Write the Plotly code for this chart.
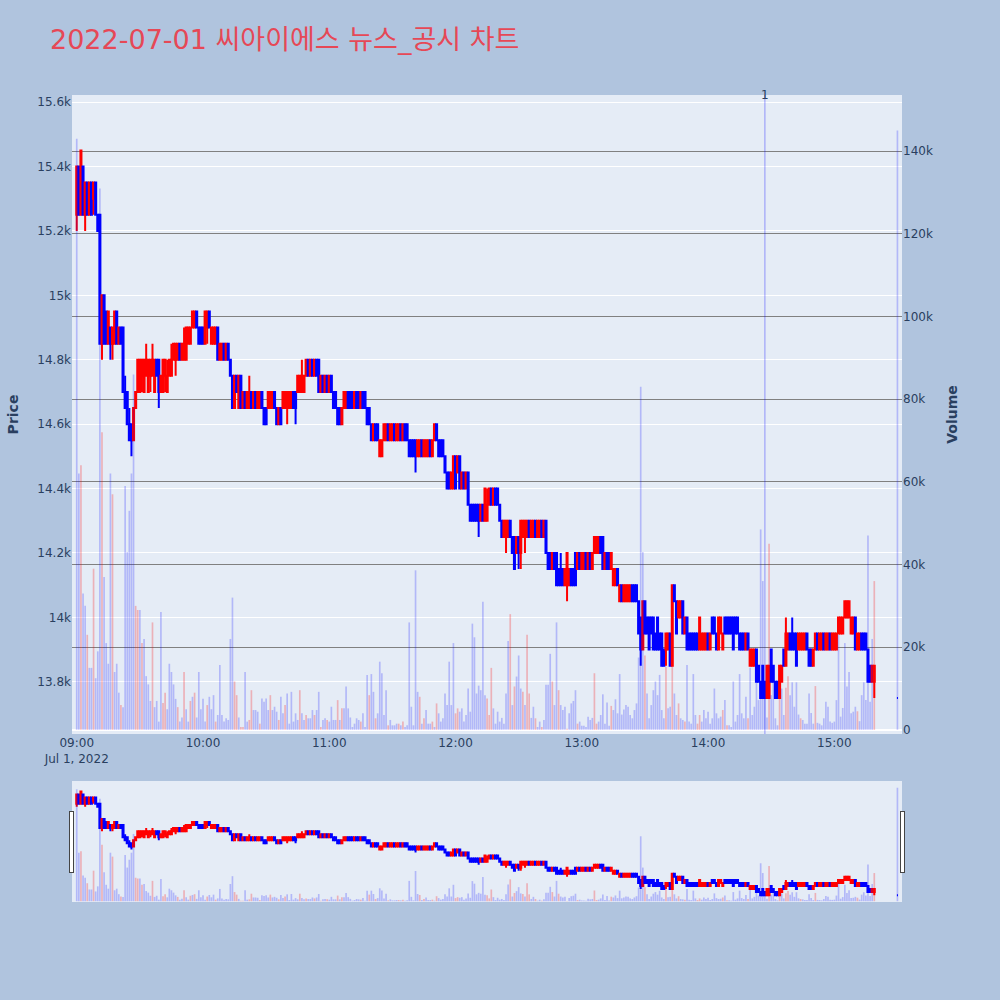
import pandas as pd
import plotly.graph_objects as go

day = "2022-07-01"
# minutes after 09:00 that have a bar (continuous session until 15:19, closing auction at 15:30)
minute_offsets = list(range(380)) + [390]

opens = [
    15250,15400,15250,15400,15250,15350,15250,15350,15300,15350,
    15250,15250,14850,15000,14950,14850,14900,14850,14850,14950,
    14850,14900,14900,14700,14700,14600,14600,14550,14650,14700,
    14700,14750,14700,14750,14700,14750,14750,14700,14800,14800,
    14700,14700,14750,14700,14750,14750,14800,14800,14800,14850,
    14800,14800,14800,14850,14850,14900,14900,14950,14900,14900,
    14900,14850,14900,14950,14850,14850,14850,14900,14800,14800,
    14850,14800,14850,14800,14750,14650,14750,14650,14750,14650,
    14700,14650,14650,14700,14650,14700,14650,14650,14700,14650,
    14650,14650,14650,14650,14700,14650,14600,14650,14650,14650,
    14650,14650,14650,14700,14700,14700,14700,14700,14700,14750,
    14800,14750,14800,14750,14800,14800,14700,14750,14700,14750,
    14700,14750,14700,14700,14650,14650,14600,14650,14650,14700,
    14700,14700,14650,14700,14700,14650,14700,14700,14650,14650,
    14600,14550,14600,14600,14500,14500,14550,14550,14600,14550,
    14550,14600,14550,14550,14600,14550,14600,14600,14550,14550,
    14550,14550,14500,14500,14550,14500,14500,14500,14550,14500,
    14550,14600,14550,14550,14550,14500,14450,14450,14400,14400,
    14500,14450,14500,14400,14450,14400,14450,14350,14350,14350,
    14350,14350,14300,14350,14300,14300,14350,14400,14350,14400,
    14400,14350,14300,14250,14250,14250,14300,14250,14250,14200,
    14250,14200,14250,14250,14250,14300,14250,14250,14300,14250,
    14250,14300,14250,14300,14200,14200,14150,14200,14200,14150,
    14150,14150,14100,14100,14100,14150,14150,14200,14150,14200,
    14150,14150,14200,14150,14200,14150,14200,14200,14200,14250,
    14250,14150,14200,14200,14150,14100,14100,14150,14050,14100,
    14050,14050,14050,14050,14100,14100,14100,14050,14000,13900,
    14050,14000,14000,14000,14000,13950,14000,13950,13950,13900,
    13900,13900,13950,13850,14100,14050,14000,14000,14050,13950,
    14000,13950,13950,13950,13950,13950,13900,13900,13900,13900,
    13950,13900,14000,14000,13950,13900,13950,13900,14000,14000,
    14000,14000,14000,14000,14000,13950,13950,13950,13900,13950,
    13850,13850,13850,13900,13850,13800,13850,13800,13750,13750,
    13900,13850,13800,13800,13750,13800,13900,13850,13900,13950,
    13950,13950,13950,13900,13900,13900,13900,13950,13900,13900,
    13850,13900,13950,13900,13900,13950,13900,13900,13950,13900,
    13900,13900,13950,13950,13950,14000,14000,14000,13950,13950,
    14000,13900,13900,13950,13950,13950,13900,13850,13800,13800,
    13750,
]
highs = [
    15400,15400,15450,15400,15350,15350,15350,15350,15350,15350,
    15250,15250,15000,15000,14950,14950,14900,14900,14950,14950,
    14900,14900,14900,14750,14700,14650,14600,14650,14700,14800,
    14800,14800,14800,14850,14800,14800,14850,14800,14800,14800,
    14750,14800,14800,14800,14800,14850,14850,14850,14850,14850,
    14850,14900,14900,14900,14900,14950,14950,14950,14900,14900,
    14900,14950,14950,14950,14900,14900,14900,14900,14850,14850,
    14850,14850,14850,14800,14750,14750,14750,14750,14750,14700,
    14700,14700,14750,14700,14700,14700,14700,14700,14700,14650,
    14650,14700,14700,14700,14700,14650,14650,14650,14700,14700,
    14700,14700,14700,14700,14700,14750,14750,14800,14750,14800,
    14800,14800,14800,14800,14800,14800,14750,14750,14750,14750,
    14750,14750,14700,14700,14650,14650,14650,14700,14700,14700,
    14700,14700,14700,14700,14700,14700,14700,14700,14650,14650,
    14600,14600,14600,14600,14550,14550,14600,14600,14600,14600,
    14600,14600,14600,14600,14600,14600,14600,14600,14550,14550,
    14550,14550,14550,14550,14550,14550,14550,14550,14550,14550,
    14600,14600,14550,14550,14550,14500,14450,14450,14450,14500,
    14500,14500,14500,14450,14450,14450,14450,14350,14350,14350,
    14350,14350,14350,14350,14400,14400,14400,14400,14400,14400,
    14400,14350,14300,14300,14300,14300,14300,14250,14250,14250,
    14250,14300,14300,14300,14300,14300,14300,14300,14300,14300,
    14300,14300,14300,14300,14200,14200,14200,14200,14200,14150,
    14200,14150,14150,14200,14150,14150,14150,14200,14200,14200,
    14200,14200,14200,14200,14200,14200,14250,14250,14250,14250,
    14250,14200,14200,14200,14200,14150,14150,14150,14100,14100,
    14100,14100,14100,14100,14100,14100,14100,14050,14000,14050,
    14050,14000,14000,14000,14000,13950,14000,13950,13950,13900,
    13950,13950,13950,14100,14100,14050,14050,14050,14050,14000,
    14000,13950,13950,13950,13950,13950,14000,13950,13950,13950,
    13950,13950,14000,14000,13950,14000,14000,13950,14000,14000,
    14000,14000,14000,14000,14000,13950,13950,13950,13950,13950,
    13900,13900,13900,13900,13850,13800,13850,13800,13850,13850,
    13900,13850,13800,13800,13850,13850,13900,14000,13950,13950,
    14000,13950,13950,13950,13950,13950,13950,13950,13900,13900,
    13900,13950,13950,13950,13950,13950,13950,13950,13950,13950,
    13950,13950,14000,14000,14000,14050,14050,14050,14000,14000,
    14000,13950,13950,13950,13950,13950,13900,13850,13850,13850,
    13750,
]
lows = [
    15200,15250,15250,15250,15200,15250,15250,15250,15250,15250,
    15200,14850,14800,14850,14850,14850,14800,14800,14850,14850,
    14850,14850,14700,14650,14600,14550,14500,14550,14650,14700,
    14700,14700,14700,14750,14700,14700,14750,14700,14750,14650,
    14700,14700,14700,14700,14750,14750,14800,14750,14800,14800,
    14800,14800,14800,14850,14850,14900,14900,14900,14850,14850,
    14850,14850,14850,14900,14850,14850,14850,14800,14800,14800,
    14800,14800,14800,14750,14650,14650,14700,14650,14650,14650,
    14650,14650,14650,14650,14650,14650,14650,14650,14650,14600,
    14600,14650,14650,14650,14650,14600,14600,14600,14650,14650,
    14600,14650,14650,14650,14600,14700,14700,14700,14700,14750,
    14750,14750,14750,14750,14750,14700,14700,14700,14700,14700,
    14700,14700,14650,14650,14600,14600,14600,14650,14650,14650,
    14650,14650,14650,14650,14650,14650,14650,14650,14600,14600,
    14550,14550,14550,14550,14500,14500,14550,14550,14550,14550,
    14550,14550,14550,14550,14550,14550,14550,14550,14500,14500,
    14500,14450,14500,14500,14500,14500,14500,14500,14500,14500,
    14550,14550,14500,14500,14500,14450,14400,14400,14400,14400,
    14400,14450,14400,14400,14400,14400,14350,14300,14300,14300,
    14300,14250,14300,14300,14300,14300,14350,14350,14350,14350,
    14350,14300,14250,14250,14200,14250,14250,14200,14150,14200,
    14150,14150,14250,14200,14250,14250,14250,14250,14250,14250,
    14250,14250,14250,14200,14150,14150,14150,14150,14100,14100,
    14100,14100,14100,14050,14100,14100,14100,14100,14150,14150,
    14150,14150,14150,14150,14150,14150,14200,14200,14200,14200,
    14150,14150,14150,14150,14150,14100,14100,14100,14050,14050,
    14050,14050,14050,14050,14050,14050,14050,13950,13850,13900,
    13950,13950,13900,13950,13900,13900,13900,13900,13850,13850,
    13850,13900,13850,13850,14050,13950,14000,14000,13950,13950,
    13900,13900,13900,13900,13900,13900,13900,13900,13900,13900,
    13900,13900,13950,13950,13900,13900,13950,13900,13950,13950,
    13950,13950,13900,13950,13950,13900,13900,13900,13900,13900,
    13850,13850,13850,13800,13800,13750,13750,13750,13750,13750,
    13800,13800,13750,13750,13750,13800,13850,13850,13900,13900,
    13900,13900,13850,13900,13900,13900,13900,13900,13850,13850,
    13850,13900,13900,13900,13900,13900,13900,13900,13900,13900,
    13900,13900,13950,13950,13950,14000,14000,14000,13950,13950,
    13900,13900,13900,13900,13900,13900,13800,13800,13800,13750,
    13750,
]
closes = [
    15400,15250,15450,15250,15350,15250,15350,15250,15350,15250,
    15200,14850,15000,14850,14850,14950,14850,14900,14950,14850,
    14900,14850,14700,14650,14600,14550,14550,14650,14700,14800,
    14800,14800,14800,14800,14800,14800,14800,14800,14750,14700,
    14750,14800,14800,14750,14800,14800,14850,14850,14850,14800,
    14850,14850,14900,14900,14900,14950,14950,14900,14850,14850,
    14850,14950,14950,14900,14900,14900,14900,14800,14850,14850,
    14800,14850,14800,14750,14650,14750,14700,14750,14650,14700,
    14650,14700,14700,14650,14700,14650,14700,14700,14650,14600,
    14600,14700,14700,14700,14650,14600,14650,14600,14700,14700,
    14700,14700,14700,14650,14650,14750,14750,14750,14750,14800,
    14750,14800,14750,14800,14750,14700,14750,14700,14750,14700,
    14750,14700,14650,14650,14600,14600,14650,14700,14700,14650,
    14650,14650,14700,14650,14650,14700,14650,14650,14600,14600,
    14550,14600,14550,14550,14550,14550,14600,14600,14550,14600,
    14600,14550,14600,14600,14550,14600,14550,14550,14500,14500,
    14500,14500,14550,14550,14500,14550,14550,14550,14500,14550,
    14600,14550,14500,14500,14500,14450,14400,14400,14450,14500,
    14400,14500,14400,14450,14400,14450,14350,14300,14300,14300,
    14300,14300,14350,14300,14400,14350,14400,14350,14400,14350,
    14350,14300,14250,14300,14300,14300,14250,14200,14150,14250,
    14200,14300,14300,14300,14300,14250,14300,14300,14250,14300,
    14300,14250,14300,14200,14150,14150,14200,14150,14100,14100,
    14100,14100,14150,14200,14150,14100,14100,14100,14200,14150,
    14200,14200,14150,14200,14150,14200,14250,14250,14250,14200,
    14150,14200,14150,14150,14200,14150,14150,14100,14100,14050,
    14100,14100,14100,14100,14050,14050,14050,13950,13900,14050,
    13950,13950,13900,13950,13900,13900,13900,13900,13850,13850,
    13950,13950,13850,14100,14050,13950,14050,14050,13950,14000,
    13900,13900,13900,13900,13900,13900,14000,13950,13950,13950,
    13900,13950,13950,13950,13900,14000,14000,13950,13950,13950,
    13950,13950,13900,13950,13950,13900,13900,13900,13950,13900,
    13900,13900,13900,13800,13800,13750,13750,13750,13850,13850,
    13800,13800,13750,13750,13850,13850,13850,13950,13950,13900,
    13900,13900,13850,13950,13950,13950,13950,13900,13850,13850,
    13900,13950,13900,13950,13950,13900,13950,13950,13900,13950,
    13950,13950,14000,14000,14000,14050,14050,14050,14000,14000,
    13900,13950,13950,13900,13900,13900,13800,13800,13850,13850,
    13750,
]
volumes = [
    143000,62000,64000,33000,30000,23000,15000,15000,39000,12500,
    19000,131000,72000,37000,21000,16000,62000,57000,14000,16000,
    9000,6000,5500,59000,43000,53000,62000,86000,30000,29000,
    29000,21000,22000,13000,11000,7000,26000,5500,7000,2000,
    28500,6500,9000,5000,16000,14000,11000,7500,5500,2000,
    3000,14000,5000,2000,7000,8000,9000,3000,14000,5000,
    7500,2000,6000,8000,5000,8400,2000,3600,15700,3600,
    2000,2800,2400,22000,32000,11700,8400,3000,700,700,
    14000,2000,2400,9600,4800,4800,4400,1500,7600,6800,
    7600,4800,8400,4800,5600,4400,2400,8000,4000,6000,
    8800,1500,9200,2000,4000,2400,9600,4000,2400,3600,
    2800,2800,4800,3600,4800,9200,700,2400,2800,2400,
    2000,5600,2400,2400,7200,2400,5200,5200,10500,5200,
    3000,700,1500,2800,2400,2000,4000,700,13300,8400,
    13500,9200,2800,4000,16500,13700,3600,9600,1100,2400,
    1100,1100,1500,1500,1100,2000,700,1100,26000,5600,
    1100,38600,9200,8000,1500,2800,4800,1500,1500,2000,
    700,6400,4000,2000,2800,8800,6000,16500,6000,21000,
    4000,5200,4400,5200,2000,3600,10000,4400,25700,22400,
    8800,10700,9600,31000,8400,7600,3600,15000,5200,1500,
    4400,2000,2900,1500,8800,21500,28000,6000,10500,12900,
    18000,10000,9200,6000,23000,8800,2900,5600,2800,700,
    2000,700,2400,10900,10900,18400,11700,6000,26000,9600,
    6000,4800,5600,300,4000,6400,7000,9600,1500,2000,
    1000,1000,700,3200,2400,2900,13700,1500,2000,3600,
    8600,1500,6600,1000,5800,4800,7400,4000,13500,3700,
    4900,6000,5600,3600,2800,4800,6400,17500,83000,43000,
    18000,8800,2800,6000,9600,11700,8400,13300,4800,2800,
    15300,5200,5600,15700,8800,3600,6400,2800,2400,2000,
    15700,2000,1500,13500,3600,1500,3600,2000,4800,2800,
    4400,1500,2800,10000,4000,2800,3200,4800,7200,1100,
    1100,700,11700,2000,3600,13500,4000,2800,8000,2800,
    15000,3600,5600,11700,7200,48500,36000,7600,3000,45000,
    8400,15000,2800,1100,7600,10000,3600,10200,13000,8400,
    11500,5600,11500,3700,2800,2400,1500,1500,8800,4100,
    1500,10600,1700,1500,1100,2800,6800,5600,2000,1700,
    2000,7200,23000,3200,5300,21000,10500,14000,4000,4400,
    5600,4500,2100,8400,11500,7200,47000,6800,22000,36000,
    145000,
]
# minute offsets whose volume bar is drawn in the "up" (red) colour
red_volume_minutes = [
    2, 5, 8, 12, 17, 21, 28, 29, 31, 36, 41, 42, 48, 51, 54, 56, 62, 66, 75, 76,
    78, 79, 82, 83, 87, 92, 96, 99, 106, 109, 113, 116, 119, 124, 126, 135, 139,
    142, 148, 153, 155, 163, 165, 169, 171, 180, 181, 195, 196, 197, 206, 208,
    212, 214, 215, 218, 221, 226, 229, 233, 238, 246, 247, 254, 270, 280, 283,
    286, 289, 295, 296, 307, 309, 319, 329, 334, 337, 338, 344, 351, 371, 379,
]
news_times = ["2022-07-01 14:27"]
news_labels = ["1"]

title_text = "2022-07-01 씨아이에스 뉴스_공시 차트"

times = pd.Timestamp(day + " 09:00") + pd.to_timedelta(minute_offsets, unit="min")
red_set = set(red_volume_minutes)
vol_colors = ["rgba(255,0,0,0.25)" if m in red_set else "rgba(0,0,255,0.22)"
              for m in minute_offsets]

fig = go.Figure()
fig.add_trace(go.Candlestick(
    x=times, open=opens, high=highs, low=lows, close=closes,
    increasing=dict(line=dict(color="red", width=2), fillcolor="red"),
    decreasing=dict(line=dict(color="blue", width=2), fillcolor="blue"),
    name="Price", yaxis="y",
))
fig.add_trace(go.Bar(
    x=times, y=volumes, marker=dict(color=vol_colors, line=dict(width=0)),
    name="Volume", yaxis="y2",
))

x_range = ["2022-07-01 08:57:45", "2022-07-01 15:32:10"]

for t, lab in zip(news_times, news_labels):
    fig.add_shape(type="line", x0=t, x1=t, y0=0, y1=1, xref="x", yref="paper",
                  line=dict(color="rgba(0,0,255,0.25)", width=1.5))
    fig.add_annotation(x=t, y=1, xref="x", yref="paper", text=lab, showarrow=False,
                       yanchor="middle", font=dict(size=12, color="#2a3f5f"))

fig.update_layout(
    width=1000, height=1000,
    paper_bgcolor="#B0C4DE", plot_bgcolor="#E5ECF6",
    font=dict(family="DejaVu Sans, Verdana, sans-serif", size=12),
    margin=dict(l=72, r=98, t=95, b=98),
    showlegend=False,
    title=dict(text=title_text, x=0.05, xanchor="left", y=0.96, yanchor="middle",
               font=dict(family="DejaVu Sans, Noto Sans CJK KR, sans-serif",
                         size=27, color="#e64856")),
    xaxis=dict(type="date", range=x_range, showgrid=False,
               rangeslider=dict(visible=True, thickness=0.15, bgcolor="#E5ECF6",
                                range=x_range)),
    yaxis=dict(title=dict(text="<b>Price</b>"), range=[13638, 15622], dtick=200,
               side="left"),
    yaxis2=dict(title=dict(text="<b>Volume</b>"), overlaying="y", side="right",
                range=[-1000, 153600], dtick=20000, showgrid=True,
                gridcolor="gray", gridwidth=1, zeroline=True,
                zerolinecolor="white", zerolinewidth=2),
)

fig.write_html("out.html", config={"displayModeBar": False},
               post_script="document.body.style.margin='0px';")
